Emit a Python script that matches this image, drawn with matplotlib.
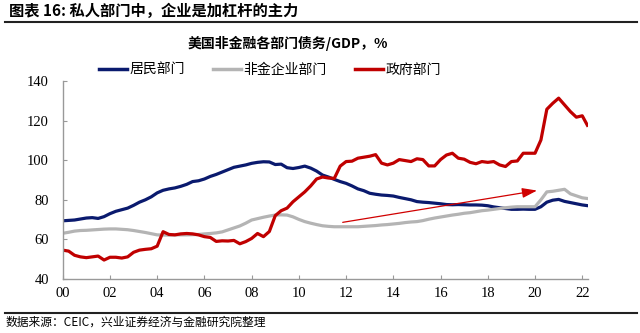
import numpy as np
import matplotlib
matplotlib.use("Agg")
import matplotlib.pyplot as plt
from matplotlib.lines import Line2D

plt.rcParams['font.family'] = ['Liberation Serif', 'Noto Sans CJK SC', 'DejaVu Sans']

# quarterly, 2000Q1 .. 2022Q2
quarters = np.arange(2000, 2022.26, 0.25)

household = [
    69.4, 69.6, 69.8, 70.3,
    70.8, 71.0, 70.6, 71.5,
    73.0, 74.2, 75.0, 75.8,
    77.2, 78.8, 80.0, 81.5,
    83.5, 84.8, 85.5, 86.0,
    86.8, 87.8, 89.2, 89.6,
    90.5, 91.8, 92.8, 94.0,
    95.2, 96.4, 97.0, 97.6,
    98.4, 98.9, 99.2, 99.1,
    97.8, 98.0, 96.2, 95.8,
    96.3, 97.0, 96.0, 94.5,
    92.5, 91.5, 90.3, 89.2,
    88.3, 87.0, 85.5, 84.6,
    83.3, 82.8, 82.4, 82.2,
    81.9, 81.2, 80.6, 80.0,
    79.1, 78.8, 78.6, 78.3,
    78.0, 77.6, 77.5, 77.6,
    77.5, 77.4, 77.4, 77.3,
    77.0, 76.4, 76.0, 75.6,
    75.2, 75.2, 75.3, 75.2,
    75.2, 76.5, 78.8, 79.8,
    80.2, 79.2, 78.6, 78.0,
    77.4, 77.0,
]

corporate = [
    63.1, 63.6, 64.2, 64.5,
    64.6, 64.8, 65.0, 65.2,
    65.3, 65.3, 65.1, 64.9,
    64.5, 64.0, 63.5, 62.9,
    62.3, 62.2, 62.2, 62.3,
    62.3, 62.3, 62.4, 62.5,
    62.8, 63.0, 63.3, 63.8,
    64.8, 65.8, 66.8, 68.2,
    69.8, 70.5, 71.2, 71.8,
    72.3, 72.4, 72.3, 71.4,
    70.1, 69.0, 68.2, 67.5,
    66.9, 66.6, 66.4, 66.4,
    66.4, 66.4, 66.4, 66.6,
    66.8, 67.0, 67.3, 67.5,
    67.8, 68.1, 68.5, 68.8,
    69.0, 69.5, 70.2, 70.8,
    71.3, 71.8, 72.3, 72.7,
    73.2, 73.5, 74.0, 74.5,
    74.8, 75.2, 75.6, 76.0,
    76.3, 76.5, 76.5, 76.5,
    76.5, 80.0, 84.0, 84.3,
    84.8, 85.3, 83.0, 82.0,
    81.0, 80.6,
]

government = [
    54.6, 54.1, 52.0, 51.2,
    50.8, 51.2, 51.6, 49.6,
    51.0, 51.0, 50.6, 51.2,
    53.5, 54.6, 55.0, 55.3,
    56.6, 63.9, 62.5, 62.3,
    62.8, 63.0, 62.8, 62.3,
    61.4, 61.0, 59.0, 59.3,
    59.2, 59.5, 57.8, 58.9,
    60.5, 63.0, 61.4, 64.0,
    72.0, 74.5, 75.8, 79.0,
    81.5, 84.0, 87.0, 90.5,
    91.5, 91.0, 90.8, 97.0,
    99.3, 99.5, 101.0, 101.5,
    102.0, 102.8, 98.5, 97.6,
    98.5, 100.3, 99.8, 99.3,
    100.7, 100.3, 97.1, 97.1,
    100.3, 102.6, 103.5, 101.0,
    100.5, 98.9, 98.2, 99.3,
    98.9, 99.3, 97.6, 96.8,
    99.3, 99.6, 103.5, 103.5,
    103.5, 110.2, 125.7, 128.7,
    131.3, 127.9, 124.5, 121.7,
    122.4, 116.9,
]

series_names = ['居民部门', '非金企业部门', '政府部门']
series_colors = ['#0a1a6e', '#b4b4b4', '#c00000']
year_ticks = list(range(2000, 2023, 2))
year_labels = ['%02d' % (y % 100) for y in year_ticks]

fig = plt.figure(figsize=(6.4, 3.33), dpi=100)
ax = fig.add_axes([0.098, 0.162, 0.821, 0.595])

for vals, name, col in zip([household, corporate, government], series_names, series_colors):
    ax.plot(quarters, vals, color=col, lw=2.3, label=name, solid_capstyle='butt')

# trend arrow
ax.annotate('', xy=(2020.2, 84.9), xytext=(2011.74, 68.4),
            arrowprops=dict(arrowstyle='-|>,head_length=0.9,head_width=0.3',
                            color='#d00000', lw=0.9))

ax.set_xlim(2000, 2022.25)
ax.set_ylim(40, 140)
ax.set_yticks(range(40, 141, 20))
ax.set_xticks(year_ticks)
ax.set_xticklabels(year_labels)
ax.tick_params(direction='in', length=3, color='#999999', labelsize=10.5, pad=6)
ax.tick_params(axis='y', pad=10)
for s in ['top', 'right']:
    ax.spines[s].set_visible(False)
for s in ['left', 'bottom']:
    ax.spines[s].set_color('#999999')
    ax.spines[s].set_linewidth(1.0)

handles = [Line2D([0], [0], color=c, lw=2.5) for c in series_colors]
fig.legend(handles, series_names, loc='center', bbox_to_anchor=(0.422, 0.79),
           ncol=3, frameon=False, handlelength=2.0,
           handletextpad=0.2, columnspacing=2.0,
           prop={'family': 'Noto Sans CJK SC', 'size': 10})

fig.text(0.45, 0.87, '美国非金融各部门债务/GDP，%', ha='center', va='center',
         family=['Noto Sans CJK SC', 'DejaVu Sans'], fontsize=10, fontweight='bold')

fig.text(0.014, 0.966, '图表 16: 私人部门中，企业是加杠杆的主力', ha='left', va='center',
         family=['Noto Sans CJK SC', 'DejaVu Sans'], fontsize=11, fontweight='bold')

fig.add_artist(Line2D([0.008, 0.995], [0.933, 0.933], color='#222222', lw=1.5))
fig.add_artist(Line2D([0.008, 0.995], [0.06, 0.06], color='#222222', lw=1.5))

fig.text(0.008, 0.033, '数据来源：CEIC，兴业证券经济与金融研究院整理', ha='left', va='center',
         family=['Noto Sans CJK SC', 'DejaVu Sans'], fontsize=8.5)

fig.savefig('out.png', dpi=100)
